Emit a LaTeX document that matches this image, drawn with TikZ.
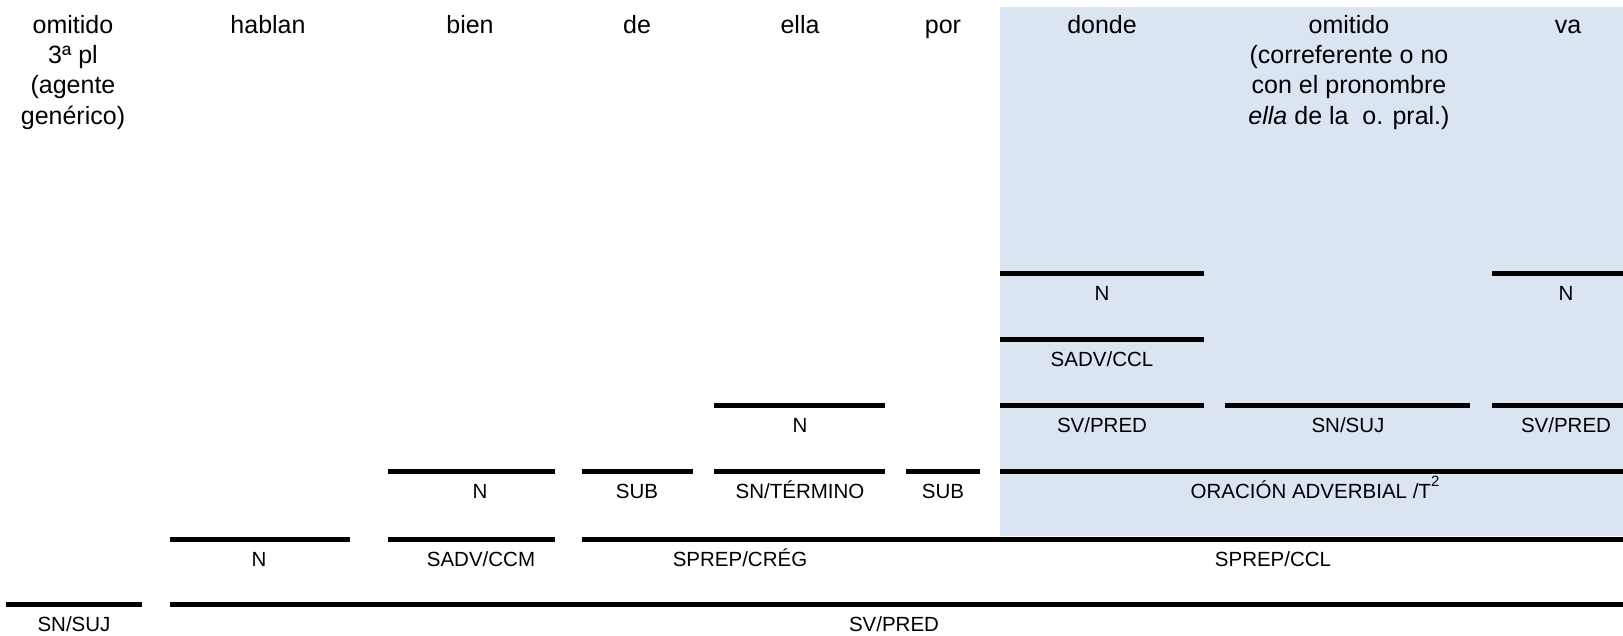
\documentclass[tikz,border=0pt]{standalone}
\usepackage{fontspec}
\setmainfont{Liberation Sans}
\definecolor{cellblue}{RGB}{219,229,241}
\begin{document}
\begin{tikzpicture}[x=1pt,y=-1pt,
  bar/.style={line width=5pt},
  word/.style={anchor=base,inner sep=0pt,align=center,font=\fontsize{25}{30.3}\selectfont},
  lab/.style={anchor=base,inner sep=0pt,font=\fontsize{20.5}{24}\selectfont}]
\useasboundingbox (0,0) rectangle (1623,635);
\fill[cellblue] (1000,7) rectangle (1623,536);
% bars, row by row
\draw[bar] (1000,273) -- (1204,273);
\draw[bar] (1492,273) -- (1623,273);
\draw[bar] (1000,339) -- (1204,339);
\draw[bar] (714,405) -- (885,405);
\draw[bar] (1000,405) -- (1204,405);
\draw[bar] (1225,405) -- (1470,405);
\draw[bar] (1492,405) -- (1623,405);
\draw[bar] (388,471) -- (555,471);
\draw[bar] (582,471) -- (693,471);
\draw[bar] (714,471) -- (885,471);
\draw[bar] (906,471) -- (980,471);
\draw[bar] (1000,471) -- (1623,471);
\draw[bar] (170,539) -- (350,539);
\draw[bar] (388,539) -- (555,539);
\draw[bar] (582,539) -- (895,539);
\draw[bar] (895,539) -- (1623,539);
\draw[bar] (6,604) -- (142,604);
\draw[bar] (170,604) -- (1623,604);
% words (multi-line nodes are placed by the baseline of their last line)
\node[word] (w1) at (73,124) {omitido\\3ª pl\\(agente\\genérico)};
\node[word] (w2) at (268,33) {hablan};
\node[word] (w3) at (470,33) {bien};
\node[word] (w4) at (637,33) {de};
\node[word] (w5) at (800,33) {ella};
\node[word] (w6) at (943,33) {por};
\node[word] (w7) at (1102,33) {donde};
\node[word] (w8) at (1349,124) {omitido\\(correferente o no\\con el pronombre\\\textit{ella} de la\ \ o. pral.)};
\node[word] (w9) at (1568,33) {va};
% labels
\node[lab] (a1) at (1102,300) {N};
\node[lab] (a2) at (1566,300) {N};
\node[lab] (b1) at (1102,366) {SADV/CCL};
\node[lab] (c1) at (800,432) {N};
\node[lab] (c2) at (1102,432) {SV/PRED};
\node[lab] (c3) at (1348,432) {SN/SUJ};
\node[lab] (c4) at (1566,432) {SV/PRED};
\node[lab] (d1) at (480,498) {N};
\node[lab] (d2) at (637,498) {SUB};
\node[lab] (d3) at (800,498) {SN/TÉRMINO};
\node[lab] (d4) at (943,498) {SUB};
\node[lab] (d5) at (1315,498) {ORACIÓN ADVERBIAL /T\raisebox{12pt}{\fontsize{15}{15}\selectfont 2}};
\node[lab] (e1) at (259,566) {N};
\node[lab] (e2) at (481,566) {SADV/CCM};
\node[lab] (e3) at (740,566) {SPREP/CRÉG};
\node[lab] (e4) at (1273,566) {SPREP/CCL};
\node[lab] (f1) at (74,631) {SN/SUJ};
\node[lab] (f2) at (894,631) {SV/PRED};
\end{tikzpicture}
\end{document}
